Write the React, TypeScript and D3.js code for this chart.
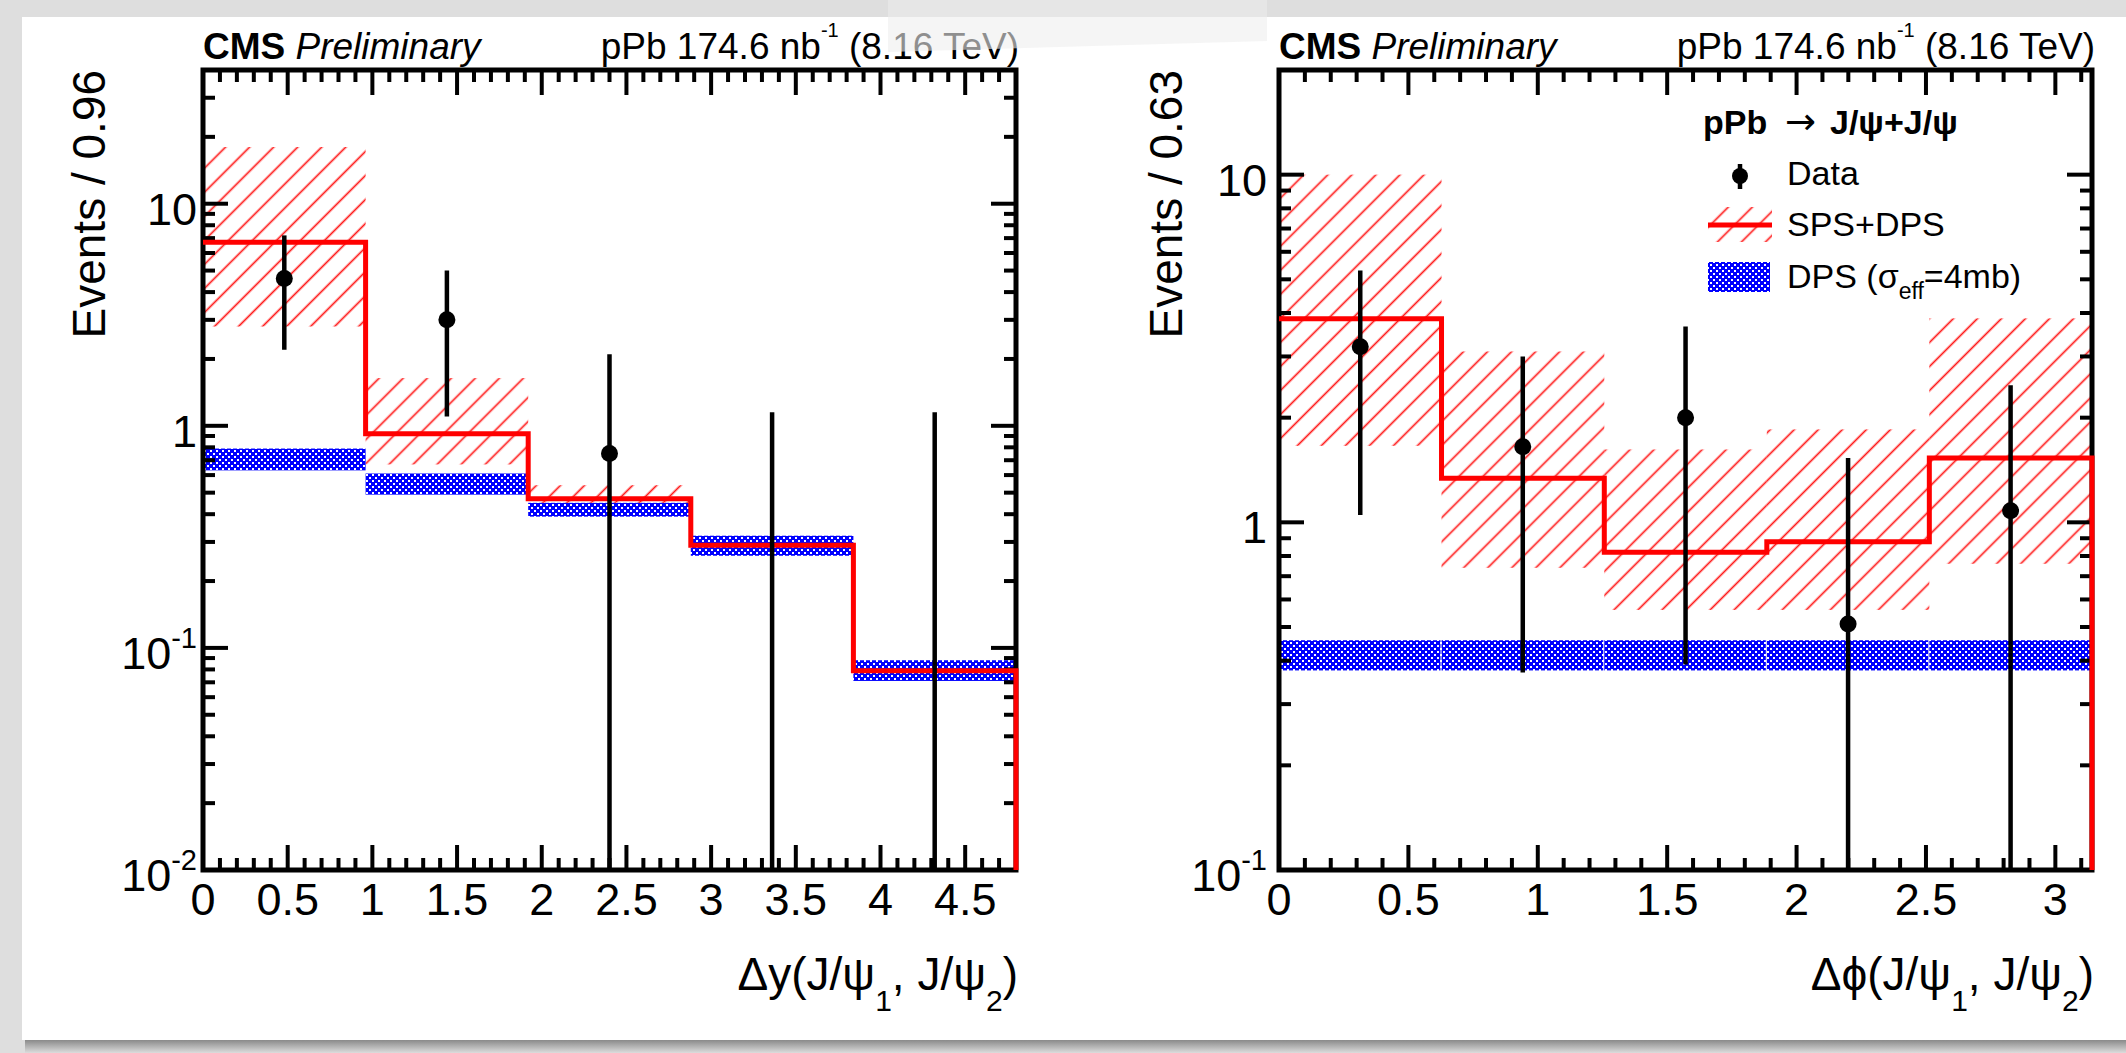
import React from "react";
import * as d3 from "d3";

const W = 2126;
const H = 1053;

// ---- Δy(J/ψ1, J/ψ2) distribution ----
const dyEdges = [0, 0.96, 1.92, 2.88, 3.84, 4.8];
const dyModel = [6.7, 0.92, 0.47, 0.29, 0.079];
const dyModelLo = [2.8, 0.67, 0.44, 0.27, 0.074];
const dyModelHi = [18, 1.64, 0.54, 0.31, 0.085];
const dyDpsLo = [0.63, 0.49, 0.39, 0.26, 0.071];
const dyDpsHi = [0.79, 0.61, 0.45, 0.32, 0.088];
const dyDataX = [0.48, 1.44, 2.4, 3.36, 4.32];
const dyData = [4.6, 3.0, 0.75, 0, 0];
const dyDataLo = [2.2, 1.1, 0, 0, 0];
const dyDataHi = [7.2, 5.0, 2.1, 1.15, 1.15];
const dyXTicks = [0, 0.5, 1, 1.5, 2, 2.5, 3, 3.5, 4, 4.5];
const dyXTickLabels = ["0", "0.5", "1", "1.5", "2", "2.5", "3", "3.5", "4", "4.5"];
const dyYTicks = [0.01, 0.1, 1, 10];
const dyYTickLabels: [string, string][] = [["10", "-2"], ["10", "-1"], ["1", ""], ["10", ""]];

// ---- Δϕ(J/ψ1, J/ψ2) distribution ----
const dphiEdges = [0, 0.628, 1.257, 1.885, 2.513, 3.1416];
const dphiModel = [3.85, 1.34, 0.82, 0.88, 1.53];
const dphiModelLo = [1.66, 0.74, 0.56, 0.56, 0.76];
const dphiModelHi = [10.0, 3.1, 1.62, 1.85, 3.86];
const dphiDpsLo = [0.375, 0.375, 0.375, 0.375, 0.375];
const dphiDpsHi = [0.458, 0.458, 0.458, 0.458, 0.458];
const dphiDataX = [0.314, 0.942, 1.571, 2.199, 2.827];
const dphiData = [3.2, 1.65, 2.0, 0.51, 1.08];
const dphiDataLo = [1.05, 0.37, 0.39, 0, 0];
const dphiDataHi = [5.3, 3.0, 3.66, 1.53, 2.48];
const dphiXTicks = [0, 0.5, 1, 1.5, 2, 2.5, 3];
const dphiXTickLabels = ["0", "0.5", "1", "1.5", "2", "2.5", "3"];
const dphiYTicks = [0.1, 1, 10];
const dphiYTickLabels: [string, string][] = [["10", "-1"], ["1", ""], ["10", ""]];

const FONT = "'Liberation Sans', Arial, Helvetica, sans-serif";
const RED = "#ff0000";
const BLUE = "#0000ff";

type PanelProps = {
  id: string;
  x0: number;
  x1: number;
  yTop: number;
  yBot: number;
  xMax: number;
  yMin: number;
  yMax: number;
  edges: number[];
  model: number[];
  modelLo: number[];
  modelHi: number[];
  dpsLo: number[];
  dpsHi: number[];
  dataX: number[];
  data: number[];
  dataLo: number[];
  dataHi: number[];
  xTicks: number[];
  xTickLabels: string[];
  yTicks: number[];
  yTickLabels: [string, string][];
  yTitle: string;
  yTitleX: number;
  yLabelGap: number;
  xVar: string;
  blueGap: number;
};

function Panel(p: PanelProps) {
  const x = d3.scaleLinear().domain([0, p.xMax]).range([p.x0, p.x1]);
  const y = d3.scaleLog().domain([p.yMin, p.yMax]).range([p.yBot, p.yTop]);
  const yc = (v: number) => (v <= p.yMin ? p.yBot + 20 : y(v));

  const nb = p.model.length;
  const bins = d3.range(nb);

  // histogram outline, dropping to the bottom at the last edge
  let path = `M${x(p.edges[0])},${y(p.model[0])}`;
  bins.forEach((i) => {
    path += `H${x(p.edges[i + 1])}`;
    if (i < nb - 1) path += `V${y(p.model[i + 1])}`;
  });
  path += `V${p.yBot}`;

  // minor ticks
  const xMinor = d3.range(0, p.xMax + 1e-9, 0.1).filter((v) => Math.abs(v * 2 - Math.round(v * 2)) > 1e-6);
  const yMinor: number[] = [];
  for (let e = Math.floor(Math.log10(p.yMin)); e <= Math.ceil(Math.log10(p.yMax)); e++) {
    for (let k = 2; k <= 9; k++) {
      const v = k * Math.pow(10, e);
      if (v > p.yMin && v <= p.yMax * 1.0001) yMinor.push(v);
    }
  }
  const MAJ = 25;
  const MIN = 12;
  const TW = 4;

  return (
    <g>
      <defs>
        <clipPath id={`clip-${p.id}`}>
          <rect x={p.x0} y={p.yTop} width={p.x1 - p.x0} height={p.yBot - p.yTop} />
        </clipPath>
      </defs>
      <g clipPath={`url(#clip-${p.id})`}>
        {/* SPS+DPS uncertainty band */}
        {bins.map((i) => (
          <rect
            key={`h${i}`}
            x={x(p.edges[i])}
            width={x(p.edges[i + 1]) - x(p.edges[i])}
            y={y(p.modelHi[i])}
            height={y(p.modelLo[i]) - y(p.modelHi[i])}
            fill="url(#hatch)"
          />
        ))}
        {/* DPS band */}
        {bins.map((i) => (
          <rect
            key={`b${i}`}
            x={x(p.edges[i])}
            width={x(p.edges[i + 1]) - x(p.edges[i]) - p.blueGap}
            y={y(p.dpsHi[i])}
            height={y(p.dpsLo[i]) - y(p.dpsHi[i])}
            fill="url(#dots)"
          />
        ))}
      </g>
      {/* frame */}
      <rect x={p.x0} y={p.yTop} width={p.x1 - p.x0} height={p.yBot - p.yTop} fill="none" stroke="#000" strokeWidth={5} />
      {/* ticks */}
      <g stroke="#000" strokeWidth={TW}>
        {p.xTicks.map((t) => (
          <g key={`xt${t}`}>
            <line x1={x(t)} x2={x(t)} y1={p.yBot} y2={p.yBot - MAJ} />
            <line x1={x(t)} x2={x(t)} y1={p.yTop} y2={p.yTop + MAJ} />
          </g>
        ))}
        {xMinor.map((t) => (
          <g key={`xm${t}`}>
            <line x1={x(t)} x2={x(t)} y1={p.yBot} y2={p.yBot - MIN} />
            <line x1={x(t)} x2={x(t)} y1={p.yTop} y2={p.yTop + MIN} />
          </g>
        ))}
        {p.yTicks.map((t) => (
          <g key={`yt${t}`}>
            <line x1={p.x0} x2={p.x0 + MAJ} y1={y(t)} y2={y(t)} />
            <line x1={p.x1} x2={p.x1 - MAJ} y1={y(t)} y2={y(t)} />
          </g>
        ))}
        {yMinor.map((t) => (
          <g key={`ym${t}`}>
            <line x1={p.x0} x2={p.x0 + MIN} y1={y(t)} y2={y(t)} />
            <line x1={p.x1} x2={p.x1 - MIN} y1={y(t)} y2={y(t)} />
          </g>
        ))}
      </g>
      {/* SPS+DPS central value */}
      <path d={path} fill="none" stroke={RED} strokeWidth={5} />
      {/* data */}
      <g clipPath={`url(#clip-${p.id})`}>
        {p.dataX.map((dx, i) => (
          <line
            key={`e${i}`}
            x1={x(dx)}
            x2={x(dx)}
            y1={y(p.dataHi[i])}
            y2={yc(p.dataLo[i])}
            stroke="#000"
            strokeWidth={4.5}
          />
        ))}
        {p.dataX.map((dx, i) =>
          p.data[i] > p.yMin ? <circle key={`m${i}`} cx={x(dx)} cy={y(p.data[i])} r={8.5} fill="#000" /> : null
        )}
      </g>
      {/* tick labels */}
      <g fontFamily={FONT} fontSize={45} fill="#000">
        {p.xTicks.map((t, i) => (
          <text key={`xl${t}`} x={x(t)} y={915} textAnchor="middle">
            {p.xTickLabels[i]}
          </text>
        ))}
        {p.yTicks.map((t, i) => (
          <text key={`yl${t}`} x={p.x0 - p.yLabelGap} y={y(t) + 21} textAnchor="end">
            <tspan>{p.yTickLabels[i][0]}</tspan>
            {p.yTickLabels[i][1] ? (
              <tspan fontSize={29} dy={-21}>
                {p.yTickLabels[i][1]}
              </tspan>
            ) : null}
          </text>
        ))}
      </g>
      {/* axis titles */}
      <text
        fontFamily={FONT}
        fontSize={46}
        textAnchor="end"
        transform={`translate(${p.yTitleX},${p.yTop}) rotate(-90)`}
      >
        {p.yTitle}
      </text>
      <text fontFamily={FONT} fontSize={46} textAnchor="end" x={p.x1 + 2} y={990}>
        <tspan>{`${p.xVar}(J/ψ`}</tspan>
        <tspan fontSize={30} dy={21}>1</tspan>
        <tspan dy={-21}>, J/ψ</tspan>
        <tspan fontSize={30} dy={21}>2</tspan>
        <tspan dy={-21}>)</tspan>
      </text>
      {/* header */}
      <text fontFamily={FONT} fontSize={37} x={p.x0} y={59}>
        <tspan fontWeight="bold">CMS</tspan>
        <tspan fontStyle="italic"> Preliminary</tspan>
      </text>
      <text fontFamily={FONT} fontSize={37} x={p.x1 + 3} y={59} textAnchor="end">
        <tspan>pPb 174.6 nb</tspan>
        <tspan fontSize={20} dy={-22}>-1</tspan>
        <tspan dy={22}> (8.16 TeV)</tspan>
      </text>
    </g>
  );
}

function Legend() {
  const tx = 1787;
  return (
    <g fontFamily={FONT} fontSize={34}>
      <text y={134}>
        <tspan x={1703} fontWeight="bold">pPb</tspan>
        <tspan x={1785} fontFamily="'DejaVu Sans', sans-serif" fontSize={37}>→</tspan>
        <tspan x={1830} fontWeight="bold">J/ψ+J/ψ</tspan>
      </text>
      {/* data marker */}
      <line x1={1740} x2={1740} y1={164} y2={189} stroke="#000" strokeWidth={4.5} />
      <circle cx={1740} cy={176} r={8} fill="#000" />
      <text x={tx} y={185}>Data</text>
      {/* SPS+DPS */}
      <rect x={1708} y={207} width={64} height={35} fill="url(#hatch)" />
      <line x1={1708} x2={1772} y1={225} y2={225} stroke={RED} strokeWidth={5} />
      <text x={tx} y={236}>SPS+DPS</text>
      {/* DPS */}
      <rect x={1708} y={262} width={62} height={30} fill="url(#dots)" />
      <text x={tx} y={288}>
        <tspan>DPS (σ</tspan>
        <tspan fontSize={23} dy={11}>eff</tspan>
        <tspan dy={-11}>=4mb)</tspan>
      </text>
    </g>
  );
}

export default function App() {
  return (
    <svg
      width={W}
      height={H}
      viewBox={`0 0 ${W} ${H}`}
      style={{ position: "absolute", left: 0, top: 0, display: "block" }}
    >
      <defs>
        <pattern id="hatch" patternUnits="userSpaceOnUse" width={17} height={17} patternTransform="rotate(-45)">
          <line x1={-2} x2={19} y1={8.5} y2={8.5} stroke={RED} strokeWidth={1.7} strokeOpacity={0.9} />
        </pattern>
        <pattern id="dots" patternUnits="userSpaceOnUse" width={6} height={6}>
          <rect width={6} height={6} fill={BLUE} />
          <rect x={0} y={0} width={2} height={2} fill="#fff" />
          <rect x={3} y={3} width={2} height={2} fill="#fff" />
        </pattern>
        <linearGradient id="bottomBar" x1="0" y1="0" x2="0" y2="1">
          <stop offset="0" stopColor="#8a8a8a" />
          <stop offset="1" stopColor="#dcdcdc" />
        </linearGradient>
      </defs>
      {/* slide backdrop */}
      <rect width={W} height={H} fill="#dedede" />
      <rect x={22} y={17} width={W - 22} height={1023} fill="#ffffff" />
      <rect x={25} y={1040} width={W - 25} height={13} fill="url(#bottomBar)" />

      <Panel
        id="dy"
        x0={203}
        x1={1016}
        yTop={70}
        yBot={870}
        xMax={4.8}
        yMin={0.01}
        yMax={40}
        edges={dyEdges}
        model={dyModel}
        modelLo={dyModelLo}
        modelHi={dyModelHi}
        dpsLo={dyDpsLo}
        dpsHi={dyDpsHi}
        dataX={dyDataX}
        data={dyData}
        dataLo={dyDataLo}
        dataHi={dyDataHi}
        xTicks={dyXTicks}
        xTickLabels={dyXTickLabels}
        yTicks={dyYTicks}
        yTickLabels={dyYTickLabels}
        yTitle="Events / 0.96"
        yTitleX={105}
        yLabelGap={6}
        xVar="Δy"
        blueGap={0}
      />
      <Panel
        id="dphi"
        x0={1279}
        x1={2092}
        yTop={70}
        yBot={870}
        xMax={Math.PI}
        yMin={0.1}
        yMax={20}
        edges={dphiEdges}
        model={dphiModel}
        modelLo={dphiModelLo}
        modelHi={dphiModelHi}
        dpsLo={dphiDpsLo}
        dpsHi={dphiDpsHi}
        dataX={dphiDataX}
        data={dphiData}
        dataLo={dphiDataLo}
        dataHi={dphiDataHi}
        xTicks={dphiXTicks}
        xTickLabels={dphiXTickLabels}
        yTicks={dphiYTicks}
        yTickLabels={dphiYTickLabels}
        yTitle="Events / 0.63"
        yTitleX={1182}
        yLabelGap={12}
        xVar="Δϕ"
        blueGap={1}
      />
      <Legend />
      {/* translucent slide element over the top edge */}
      <polygon points="888,17 1267,17 1267,41 888,52" fill="#eeeeee" fillOpacity={0.6} />
      <rect x={888} y={0} width={379} height={17} fill="#e6e6e6" />
    </svg>
  );
}
